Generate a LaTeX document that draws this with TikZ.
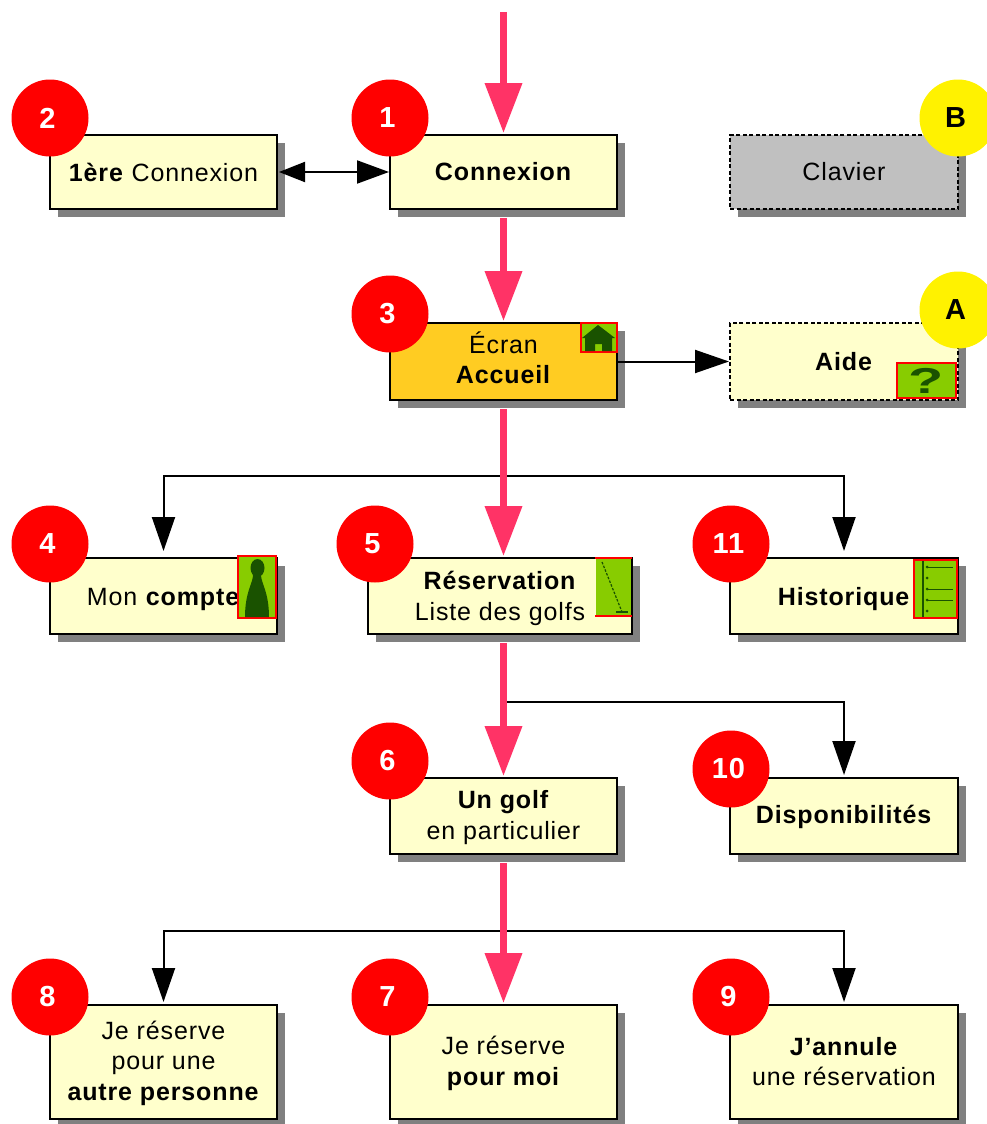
\documentclass[tikz,border=0pt]{standalone}
\usepackage{xcolor}
\usepackage{fontspec}
\setmainfont[LetterSpace=3.5]{Liberation Sans}
\usetikzlibrary{arrows.meta}
\usetikzlibrary{shadows}

\definecolor{boxfill}{HTML}{FFFFCC}
\definecolor{homefill}{HTML}{FFCC22}
\definecolor{keyfill}{HTML}{C0C0C0}
\definecolor{flow}{HTML}{FF3366}
\definecolor{iconfill}{HTML}{88CC00}
\definecolor{icondark}{HTML}{1A5200}

\tikzset{
    screen/.style = {draw, line width = 2pt, fill = boxfill, minimum width = 227pt, minimum height = 74pt, inner sep = 0pt, align = center, font = \fontsize{25}{30.5}\selectfont, drop shadow = {shadow xshift = 8pt, shadow yshift = -8pt, fill = gray, opacity = 1}},
    optional/.style = {screen, dash pattern = on 4pt off 2.5pt},
    tall/.style = {screen, minimum height = 114pt},
    num/.style = {circle, fill = red, text = white, minimum size = 77pt, inner sep = 0pt, font = \fontsize{29}{29}\selectfont\bfseries, execute at begin node = {\hspace*{-5pt}}},
    letter/.style = {num, fill = yellow, text = black},
    icon/.style = {draw = red, line width = 2pt, fill = iconfill, inner sep = 0pt},
    main/.style = {flow, line width = 7pt, -{Triangle[length = 50pt, width = 36pt]}},
    branch/.style = {line width = 2pt, -{Triangle[length = 34pt, width = 23pt]}}
}

\begin{document}
\begin{tikzpicture}[x = 1pt, y = -1pt]
        \useasboundingbox (0, 0) rectangle (987, 1124);

        \node[screen] (first) at (163.5, 172) {\textbf{1ère} Connexion};
        \node[screen] (conn) at (503.5, 172) {\textbf{Connexion}};
        \node[optional, fill = keyfill, minimum width = 228pt] (clavier) at (844, 172) {Clavier};

        \node[screen, fill = homefill, minimum height = 77pt, text height = 45pt] (accueil) at (503.5, 361.5) {Écran\\\textbf{Accueil}};
        \node[optional, minimum width = 228pt, minimum height = 77pt] (aide) at (844, 361.5) {\textbf{Aide}};

        \node[screen, minimum height = 76pt, text height = 24pt] (compte) at (163.5, 596) {Mon \textbf{compte}};
        \node[screen, minimum width = 264pt, minimum height = 76pt, text height = 54pt] (resa) at (500, 596) {\textbf{Réservation}\\Liste des golfs};
        \node[screen, minimum width = 228pt, minimum height = 76pt, text height = 24pt] (histo) at (844, 596) {\textbf{Historique}};

        \node[screen, minimum height = 76pt, text height = 52pt] (golf) at (503.5, 816) {\textbf{Un golf}\\en particulier};
        \node[screen, minimum width = 228pt, minimum height = 76pt, text height = 20pt] (dispo) at (844, 816) {\textbf{Disponibilités}};

        \node[tall, text height = 82pt] (autre) at (163.5, 1062) {Je réserve\\pour une\\\textbf{autre personne}};
        \node[tall, text height = 52pt] (moi) at (503.5, 1062) {Je réserve\\\textbf{pour moi}};
        \node[tall, minimum width = 228pt, text height = 48pt] (annule) at (844, 1062) {\textbf{J'annule}\\une réservation};

        \coordinate (start) at (503.5, 12);
        \coordinate (fork0) at (503.5, 476);
        \coordinate (fork1) at (503.5, 702);
        \coordinate (fork2) at (503.5, 931);

        \draw[branch, shorten > = 6pt] (fork0) -| (compte.north);
        \draw[branch, shorten > = 6pt] (fork0) -| (histo.north);
        \draw[branch, shorten > = 2pt] (fork1) -| (dispo.north);
        \draw[branch, shorten > = 2pt] (fork2) -| (autre.north);
        \draw[branch, shorten > = 2pt] (fork2) -| (annule.north);

        \draw[branch, {Triangle[length = 26pt, width = 20pt]}-{Triangle[length = 32pt, width = 23pt]}, shorten < = 1pt] (first.east) -- (conn.west);
        \draw[branch] (accueil.east) -- (aide.west);

        \draw[main, shorten > = 1pt] (start) -- (conn.north);
        \draw[main, shorten < = 8pt, shorten > = 1pt] (conn.south) -- (accueil.north);
        \draw[main, shorten < = 8pt, shorten > = 1pt] (accueil.south) -- (accueil.south |- resa.north);
        \draw[main, shorten < = 8pt, shorten > = 1pt] (accueil.south |- resa.south) -- (golf.north);
        \draw[main, shorten < = 8pt, shorten > = 1pt] (golf.south) -- (moi.north);

        \node[icon, minimum width = 36pt, minimum height = 29pt] (ichome) at (598.5, 337.5) {};
        \fill[icondark] (598, 325) -- (615, 338) -- (612, 338) -- (612, 351) -- (602, 351) -- (602, 344) -- (595, 344) -- (595, 351) -- (585, 351) -- (585, 338) -- (582, 338) -- cycle;

        \node[icon, minimum width = 59pt, minimum height = 35pt] (ichelp) at (926, 380) {};
        \node[text = icondark, font = \fontsize{36}{36}\selectfont\bfseries, xscale = 1.6] (qmark) at (926, 381) {?};

        \node[icon, minimum width = 38pt, minimum height = 62pt] (icuser) at (257, 587) {};
        \fill[icondark] (257.5, 568) ellipse (7pt and 9pt);
        \fill[icondark] (253, 575) .. controls (253, 583) and (245, 592) .. (245, 617) -- (269, 617) .. controls (269, 592) and (261, 583) .. (261, 575) -- cycle;

        \fill[iconfill] (596, 559) rectangle (631, 615);
        \draw[red, line width = 2pt] (595, 558) -- (632, 558);
        \draw[red, line width = 2pt] (595, 616) -- (632, 616);
        \draw[icondark, line width = 1.2pt, dash pattern = on 2.5pt off 1.5pt] (602, 562) -- (622, 612);
        \draw[icondark, line width = 2pt] (616, 612) -- (628, 612);

        \node[icon, minimum width = 43pt, minimum height = 58pt] (ichisto) at (935.5, 589) {};
        \draw[icondark, line width = 1.5pt] (923, 561) -- (923, 617);
        \foreach \y in {567, 589, 600}
            \draw[icondark, line width = 1pt] (927, \y) -- (953, \y);
        \foreach \y in {567, 578, 589, 600, 611}
            \fill[icondark] (927, \y) circle (1.5pt);

        \node[num] (n2) at (50, 118) {2};
        \node[num] (n1) at (390, 118) {1};
        \node[letter] (nb) at (958, 118) {B};
        \node[num] (n3) at (390, 314) {3};
        \node[letter] (na) at (958, 310) {A};
        \node[num] (n4) at (50, 544) {4};
        \node[num] (n5) at (375, 544) {5};
        \node[num] (n11) at (731, 544) {11};
        \node[num] (n6) at (390, 761) {6};
        \node[num] (n10) at (731, 769) {10};
        \node[num] (n8) at (50, 997) {8};
        \node[num] (n7) at (390, 997) {7};
        \node[num] (n9) at (731, 997) {9};
    \end{tikzpicture}
\end{document}
